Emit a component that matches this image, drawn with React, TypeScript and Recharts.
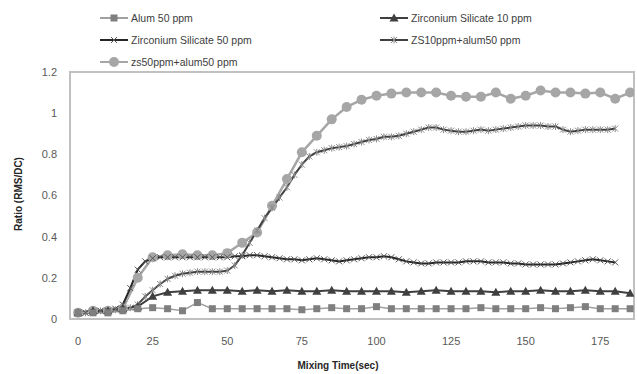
import { LineChart, Line, XAxis, YAxis, ReferenceArea } from "recharts";

// sampling times (sec)
const t5 = [0, 5, 10, 15, 20, 25, 30, 35, 40, 45, 50, 55, 60, 65, 70, 75, 80, 85, 90, 95, 100, 105, 110, 115, 120, 125, 130, 135, 140, 145, 150, 155, 160, 165, 170, 175, 180, 185];
const t25 = [0, 2.5, 5, 7.5, 10, 12.5, 15, 17.5, 20, 22.5, 25, 27.5, 30, 32.5, 35, 37.5, 40, 42.5, 45, 47.5, 50, 52.5, 55, 57.5, 60, 62.5, 65, 67.5, 70, 72.5, 75, 77.5, 80, 82.5, 85, 87.5, 90, 92.5, 95, 97.5, 100, 102.5, 105, 107.5, 110, 112.5, 115, 117.5, 120, 122.5, 125, 127.5, 130, 132.5, 135, 137.5, 140, 142.5, 145, 147.5, 150, 152.5, 155, 157.5, 160, 162.5, 165, 167.5, 170, 172.5, 175, 177.5, 180];

const alum50 = [0.03, 0.03, 0.03, 0.04, 0.05, 0.055, 0.05, 0.04, 0.08, 0.05, 0.05, 0.05, 0.05, 0.05, 0.05, 0.045, 0.05, 0.055, 0.05, 0.05, 0.06, 0.05, 0.05, 0.05, 0.05, 0.05, 0.05, 0.055, 0.05, 0.05, 0.05, 0.055, 0.05, 0.055, 0.06, 0.05, 0.05, 0.05];
const zs10 = [0.03, 0.04, 0.04, 0.05, 0.06, 0.11, 0.13, 0.135, 0.14, 0.14, 0.14, 0.135, 0.14, 0.135, 0.14, 0.135, 0.135, 0.14, 0.135, 0.135, 0.135, 0.135, 0.13, 0.135, 0.14, 0.135, 0.135, 0.135, 0.13, 0.135, 0.135, 0.14, 0.135, 0.135, 0.14, 0.135, 0.135, 0.125];
const zs50 = [0.03, 0.03, 0.035, 0.04, 0.04, 0.05, 0.07, 0.15, 0.24, 0.28, 0.295, 0.3, 0.3, 0.3, 0.3, 0.3, 0.3, 0.3, 0.3, 0.3, 0.3, 0.305, 0.305, 0.31, 0.31, 0.305, 0.3, 0.295, 0.29, 0.29, 0.285, 0.29, 0.295, 0.29, 0.285, 0.28, 0.285, 0.29, 0.295, 0.3, 0.3, 0.305, 0.3, 0.29, 0.28, 0.275, 0.27, 0.27, 0.275, 0.275, 0.275, 0.275, 0.28, 0.28, 0.28, 0.275, 0.275, 0.275, 0.27, 0.27, 0.265, 0.265, 0.265, 0.265, 0.265, 0.27, 0.275, 0.28, 0.285, 0.29, 0.285, 0.28, 0.275];
const zs10Alum50 = [0.03, 0.03, 0.035, 0.04, 0.04, 0.045, 0.05, 0.055, 0.07, 0.11, 0.14, 0.17, 0.195, 0.21, 0.22, 0.225, 0.23, 0.23, 0.23, 0.23, 0.235, 0.26, 0.31, 0.37, 0.43, 0.49, 0.54, 0.59, 0.64, 0.7, 0.75, 0.79, 0.81, 0.82, 0.83, 0.835, 0.84, 0.85, 0.86, 0.87, 0.875, 0.885, 0.885, 0.89, 0.9, 0.91, 0.92, 0.93, 0.93, 0.92, 0.915, 0.91, 0.91, 0.915, 0.92, 0.915, 0.92, 0.925, 0.93, 0.935, 0.94, 0.94, 0.94, 0.935, 0.935, 0.92, 0.91, 0.915, 0.92, 0.92, 0.92, 0.92, 0.925];
const zs50Alum50 = [0.03, 0.04, 0.04, 0.05, 0.2, 0.3, 0.31, 0.315, 0.31, 0.31, 0.32, 0.37, 0.42, 0.55, 0.68, 0.81, 0.89, 0.97, 1.03, 1.065, 1.085, 1.095, 1.1, 1.1, 1.1, 1.085, 1.08, 1.08, 1.1, 1.07, 1.085, 1.11, 1.1, 1.1, 1.095, 1.1, 1.07, 1.1];

const xTicks = [0, 25, 50, 75, 100, 125, 150, 175];
const yTicks = [0, 0.2, 0.4, 0.6, 0.8, 1, 1.2];

const toRows = (ts: number[], vs: number[]) => ts.map((t, i) => ({ t, v: vs[i] }));

const FONT = "'Liberation Sans', Arial, sans-serif";

const Square = ({ cx, cy }: any) => <rect x={cx - 3.5} y={cy - 3.5} width={7} height={7} fill="#7f7f7f" />;
const Triangle = ({ cx, cy }: any) => <path d={`M${cx},${cy - 4.5}L${cx + 4.5},${cy + 3.5}L${cx - 4.5},${cy + 3.5}Z`} fill="#404040" />;
const Cross = ({ cx, cy }: any) => (
  <path d={`M${cx - 3},${cy - 3}L${cx + 3},${cy + 3}M${cx - 3},${cy + 3}L${cx + 3},${cy - 3}`} stroke="#555" strokeWidth={1} />
);
const Star = ({ cx, cy }: any) => (
  <path d={`M${cx - 3},${cy - 3}L${cx + 3},${cy + 3}M${cx - 3},${cy + 3}L${cx + 3},${cy - 3}M${cx},${cy - 3.5}L${cx},${cy + 3.5}`} stroke="#8a8a8a" strokeWidth={1} />
);
const Circle = ({ cx, cy }: any) => <circle cx={cx} cy={cy} r={5} fill="#a6a6a6" />;

const legendItems = [
  { name: "Alum 50 ppm", color: "#a0a0a0", mark: Square, x: 100, y: 18 },
  { name: "Zirconium Silicate 10 ppm", color: "#404040", mark: Triangle, x: 380, y: 18 },
  { name: "Zirconium Silicate 50 ppm", color: "#262626", mark: Cross, x: 100, y: 40 },
  { name: "ZS10ppm+alum50 ppm", color: "#404040", mark: Star, x: 380, y: 40 },
  { name: "zs50ppm+alum50 ppm", color: "#a6a6a6", mark: Circle, x: 100, y: 62 },
];

export default function App() {
  return (
    <div style={{ position: "absolute", left: 0, top: 0, width: 637, height: 374, background: "#fff", fontFamily: FONT }}>
      <LineChart width={637} height={374} margin={{ top: 72, right: 3, bottom: 25, left: 0 }}>
        <XAxis
          type="number"
          dataKey="t"
          domain={[-2.7, 186.3]}
          ticks={xTicks}
          height={30}
          axisLine={false}
          tickLine={false}
          tickSize={0}
          tickMargin={18}
          tick={{ fontSize: 11, fill: "#595959", fontFamily: FONT }}
          allowDataOverflow
        />
        <YAxis
          type="number"
          domain={[0, 1.2]}
          ticks={yTicks}
          width={70}
          axisLine={false}
          tickLine={false}
          tickSize={0}
          tickMargin={13}
          tick={{ fontSize: 11, fill: "#595959", fontFamily: FONT }}
        />
        <ReferenceArea x1={-2.7} x2={186.3} y1={0} y2={1.2} fill="none" stroke="#c0c0c0" strokeWidth={2} />
        <Line data={toRows(t5, zs50Alum50)} dataKey="v" stroke="#a6a6a6" strokeWidth={2.5} dot={<Circle />} isAnimationActive={false} />
        <Line data={toRows(t25, zs10Alum50)} dataKey="v" stroke="#404040" strokeWidth={2} dot={<Star />} isAnimationActive={false} />
        <Line data={toRows(t25, zs50)} dataKey="v" stroke="#262626" strokeWidth={2} dot={<Cross />} isAnimationActive={false} />
        <Line data={toRows(t5, zs10)} dataKey="v" stroke="#404040" strokeWidth={2} dot={<Triangle />} isAnimationActive={false} />
        <Line data={toRows(t5, alum50)} dataKey="v" stroke="#a0a0a0" strokeWidth={1.5} dot={<Square />} isAnimationActive={false} />
      </LineChart>

      {legendItems.map((it) => {
        const M = it.mark;
        return (
          <div key={it.name} style={{ position: "absolute", left: it.x, top: it.y - 8, height: 16, display: "flex", alignItems: "center" }}>
            <svg width={28} height={16}>
              <line x1={0} y1={8} x2={28} y2={8} stroke={it.color} strokeWidth={2} />
              <M cx={14} cy={8} />
            </svg>
            <span style={{ marginLeft: 3, fontSize: 10.5, color: "#404040", whiteSpace: "nowrap" }}>{it.name}</span>
          </div>
        );
      })}

      <div
        style={{
          position: "absolute",
          left: 18,
          top: 194,
          transform: "translate(-50%, -50%) rotate(-90deg)",
          fontSize: 10,
          fontWeight: "bold",
          color: "#262626",
          whiteSpace: "nowrap",
        }}
      >
        Ratio (RMS/DC)
      </div>
      <div
        style={{
          position: "absolute",
          left: 338,
          top: 365,
          transform: "translate(-50%, -50%)",
          fontSize: 10,
          fontWeight: "bold",
          color: "#262626",
          whiteSpace: "nowrap",
        }}
      >
        Mixing Time(sec)
      </div>
    </div>
  );
}
